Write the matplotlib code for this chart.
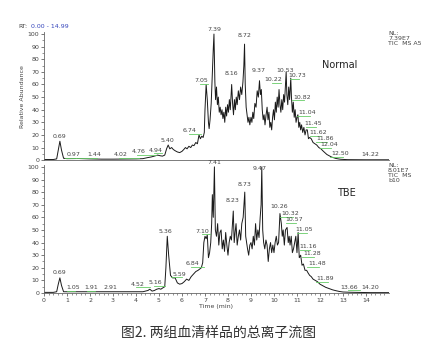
import matplotlib
matplotlib.use("Agg")
import matplotlib.pyplot as plt
from matplotlib.ticker import MultipleLocator

# Normal sample TIC trace (time in min, relative abundance)
normal_t = [0.00, 0.40, 0.55, 0.62, 0.69, 0.76, 0.85, 1.00, 1.50, 2.00, 2.50, 3.00, 3.50, 4.02,
            4.30, 4.50, 4.65, 4.76, 4.85, 4.94, 5.05, 5.15, 5.25, 5.33, 5.40, 5.47, 5.55, 5.62,
            5.70, 5.80, 5.90, 6.00, 6.08, 6.15, 6.22, 6.30, 6.38, 6.45, 6.52, 6.60, 6.67, 6.74,
            6.80, 6.86, 6.92, 6.97,
            7.00, 7.05, 7.10, 7.15, 7.18, 7.22, 7.27, 7.32, 7.36, 7.39, 7.43, 7.46, 7.50, 7.54,
            7.58, 7.62, 7.66, 7.70, 7.74, 7.78, 7.82, 7.86, 7.90, 7.94, 7.98, 8.02, 8.06, 8.10,
            8.16, 8.20, 8.24, 8.28, 8.32, 8.36, 8.40, 8.45, 8.50, 8.55, 8.60, 8.65, 8.69, 8.72,
            8.75, 8.79, 8.83, 8.87, 8.91, 8.95, 9.00, 9.04, 9.08, 9.12, 9.17, 9.22, 9.27, 9.32,
            9.37, 9.41, 9.45, 9.49, 9.53, 9.57, 9.61, 9.65, 9.70, 9.74, 9.78, 9.82, 9.86, 9.90,
            9.94, 9.98, 10.02, 10.06, 10.10, 10.14, 10.18, 10.22, 10.26, 10.30, 10.34, 10.38,
            10.42, 10.46, 10.50, 10.53, 10.56, 10.60, 10.64, 10.68, 10.73, 10.76, 10.80, 10.84,
            10.88, 10.92, 10.96, 11.00, 11.04, 11.08, 11.12, 11.16, 11.20, 11.25, 11.30, 11.35,
            11.40, 11.45, 11.50, 11.55, 11.62, 11.70, 11.78, 11.86, 11.95, 12.04, 12.15, 12.30,
            12.50, 12.70, 12.90, 13.20, 14.00, 14.99]
normal_i = [0.5, 0.5, 1.0, 8.0, 15.0, 8.0, 1.5, 1.2, 1.3, 1.0, 0.8, 0.8, 0.9, 1.0,
            1.2, 2.0, 2.5, 3.0, 3.5, 4.0, 3.5, 3.2, 4.0, 9.0, 12.0, 9.0, 10.0, 8.5,
            7.5, 6.5, 6.0, 7.0, 8.5, 10.0, 9.0, 11.0, 10.0, 12.0, 11.5, 14.0, 13.0, 20.0,
            17.0, 19.0, 18.0, 22.0,
            40, 60, 48, 30, 25, 32, 45, 70, 88, 100, 62, 48, 58, 44,
            50, 38, 42, 36, 40, 33, 38, 30, 42, 35, 44, 38, 48, 40,
            60, 45, 36, 48, 40, 50, 44, 55, 48, 58, 52, 62, 75, 92,
            60, 42, 36, 30, 34, 28, 34, 30, 38, 33, 45, 42, 55, 50,
            63, 52, 56, 40, 32, 36, 28, 35, 42, 32, 38, 26, 30, 24,
            34, 40, 32, 46, 38, 50, 42, 56, 44, 38, 48, 40,
            52, 46, 60, 70, 52, 44, 58, 48, 65, 50, 38, 46,
            34, 40, 30, 34, 36, 26, 30, 24, 28, 22, 26, 20,
            24, 24, 17, 18, 17, 14, 13, 12, 10, 9, 7, 4.5,
            2.5, 1.3, 0.7, 0.4, 0.3, 0.3]

# TBE sample TIC trace
tbe_t = [0.00, 0.40, 0.55, 0.62, 0.69, 0.76, 0.85, 1.05, 1.50, 1.91, 2.40, 2.91, 3.50, 4.00,
         4.30, 4.52, 4.60, 4.70, 4.80, 4.90, 5.00, 5.08, 5.16, 5.25, 5.30, 5.36, 5.42, 5.50,
         5.59, 5.70, 5.80, 5.90, 6.00, 6.10, 6.20, 6.30, 6.40, 6.50, 6.60, 6.70, 6.84, 6.90,
         6.95, 7.00, 7.05, 7.10, 7.15, 7.20, 7.25, 7.29, 7.32, 7.36, 7.41, 7.45, 7.50, 7.55,
         7.60, 7.65, 7.70, 7.75, 7.80, 7.85, 7.90, 7.95, 8.00, 8.05, 8.10, 8.15, 8.23, 8.27,
         8.31, 8.35, 8.40, 8.45, 8.50, 8.55, 8.60, 8.66, 8.73, 8.77, 8.81, 8.85, 8.90, 8.95,
         9.00, 9.05, 9.10, 9.15, 9.20, 9.25, 9.30, 9.35, 9.40, 9.44, 9.47, 9.51, 9.55, 9.60,
         9.65, 9.70, 9.75, 9.80, 9.85, 9.90, 9.95, 10.00, 10.05, 10.10, 10.15, 10.20, 10.26,
         10.32, 10.36, 10.40, 10.45, 10.50, 10.57, 10.62, 10.66, 10.70, 10.75, 10.80, 10.85,
         10.90, 10.95, 11.00, 11.05, 11.10, 11.16, 11.22, 11.28, 11.35, 11.42, 11.48, 11.55,
         11.62, 11.70, 11.80, 11.89, 12.00, 12.10, 12.25, 12.40, 12.55, 12.70, 12.85, 13.00,
         13.30, 13.66, 14.20, 14.99]
tbe_i = [0.5, 0.5, 1.0, 7.0, 12.0, 6.0, 1.0, 1.0, 1.0, 1.0, 1.0, 1.0, 1.0, 1.0,
         1.0, 2.0, 3.0, 1.5, 2.0, 3.0, 3.5, 3.0, 4.0, 5.0, 20.0, 45.0, 30.0, 14.0,
         12.0, 12.0, 8.0, 7.0, 7.5, 9.0, 11.0, 10.0, 13.0, 15.0, 17.0, 18.0, 20.0, 24.0,
         40, 45, 43, 46, 28, 32, 40, 55, 78, 60, 100, 50, 45, 55,
         38, 48, 50, 35, 42, 33, 48, 38, 30, 40, 45, 42, 65, 40,
         48, 55, 38, 45, 50, 42, 55, 60, 80, 45, 40, 35, 30, 38,
         40, 35, 45, 38, 55, 42, 50, 44, 60, 70, 100, 50, 40, 35,
         42, 38, 25, 35, 40, 32, 38, 32, 40, 45, 38, 40, 63,
         55, 45, 50, 38, 50, 52, 40, 45, 38, 45, 32, 35,
         40, 45, 32, 48, 28, 30, 22, 23, 18, 18, 16, 14,
         13, 11, 10, 9, 7, 6, 4.5, 3.5, 2.5, 1.8, 1.2, 0.8,
         0.6, 0.5, 0.3, 0.3]

# peak labels: text, peak time, label height, text offset (min), green leader line
normal_labels = [("0.69", 0.69, 17, 0.0, False), ("0.97", 0.97, 2.5, 0.3, True),
                 ("1.44", 1.44, 2.5, 0.75, True), ("4.02", 4.02, 2.5, -0.7, True),
                 ("4.76", 4.76, 5, -0.65, True), ("4.94", 4.94, 6, -0.1, True),
                 ("5.40", 5.40, 13.5, -0.03, False), ("6.74", 6.74, 21.5, -0.4, True),
                 ("7.05", 7.05, 61, -0.22, True), ("7.39", 7.39, 101.5, 0.0, False),
                 ("8.16", 8.16, 67, -0.03, False), ("8.72", 8.72, 97, 0.0, False),
                 ("9.37", 9.37, 69, -0.04, False), ("10.22", 10.22, 62, -0.25, True),
                 ("10.53", 10.53, 69, -0.04, False), ("10.73", 10.73, 65, 0.27, True),
                 ("10.82", 10.82, 48, 0.4, True), ("11.04", 11.04, 36, 0.42, True),
                 ("11.45", 11.45, 27, 0.27, True), ("11.62", 11.62, 20, 0.3, True),
                 ("11.86", 11.86, 15, 0.36, True), ("12.04", 12.04, 10.5, 0.36, True),
                 ("12.50", 12.50, 3, 0.38, True), ("14.22", 14.22, 2.5, -0.05, False)]
tbe_labels = [("0.69", 0.69, 14, -0.02, False), ("1.05", 1.05, 2.4, 0.2, True),
              ("1.91", 1.91, 2.4, 0.13, True), ("2.91", 2.91, 2.4, -0.03, False),
              ("4.52", 4.52, 5, -0.47, True), ("5.16", 5.16, 6, -0.33, True),
              ("5.36", 5.36, 47, -0.06, False), ("5.59", 5.59, 13, 0.3, True),
              ("6.84", 6.84, 21.5, -0.4, True), ("7.10", 7.10, 47, -0.2, True),
              ("7.41", 7.41, 101.6, 0.0, False), ("8.23", 8.23, 71, -0.03, False),
              ("8.73", 8.73, 84, 0.0, False), ("9.47", 9.47, 97, -0.09, False),
              ("10.26", 10.26, 67, -0.02, False), ("10.32", 10.32, 61, 0.4, True),
              ("10.57", 10.57, 56.5, 0.3, True), ("11.05", 11.05, 48, 0.28, True),
              ("11.16", 11.16, 35, 0.32, True), ("11.28", 11.28, 29, 0.37, True),
              ("11.48", 11.48, 21.5, 0.39, True), ("11.89", 11.89, 9.5, 0.34, True),
              ("13.66", 13.66, 2.6, -0.4, True), ("14.20", 14.20, 2.4, -0.03, False)]

GREY = "#444444"
GREEN = "#66cc66"

fig = plt.figure(figsize=(4.38, 3.52), dpi=100)
ax_top = fig.add_axes([0.1005, 0.545, 0.787, 0.364])
ax_bot = fig.add_axes([0.1005, 0.1676, 0.787, 0.364])


def _panel(ax, t, y, labels):
    ax.plot(t, y, color="#1a1a1a", lw=0.7)
    ax.set_xlim(0, 14.99)
    ax.set_ylim(0, 101.6)
    for s in ("top", "right"):
        ax.spines[s].set_visible(False)
    for s in ("left", "bottom"):
        ax.spines[s].set_color("#666666")
        ax.spines[s].set_linewidth(0.6)
    ax.yaxis.set_major_locator(MultipleLocator(10))
    ax.yaxis.set_minor_locator(MultipleLocator(5))
    ax.tick_params(axis="y", which="major", length=2.5, width=0.5, labelsize=4.5,
                   colors=GREY, pad=1)
    ax.tick_params(axis="y", which="minor", length=1.5, width=0.4, colors=GREY)
    for txt, tx, ly, dx, green in labels:
        if green:
            lo = min(tx, tx + dx) - 0.05
            hi = max(tx, tx + dx) + 0.1
            hi = max(hi, lo + 0.35)
            ax.plot([lo, hi], [ly - 0.6, ly - 0.6], color=GREEN, lw=0.6)
        ax.text(tx + dx, ly, txt, ha="center", va="bottom", fontsize=4.5, color=GREY)


_panel(ax_top, normal_t, normal_i, normal_labels)
_panel(ax_bot, tbe_t, tbe_i, tbe_labels)

ax_top.tick_params(axis="x", which="both", bottom=False, labelbottom=False)
ax_bot.xaxis.set_major_locator(MultipleLocator(1))
ax_bot.xaxis.set_minor_locator(MultipleLocator(0.2))
ax_bot.tick_params(axis="x", which="major", length=2.5, width=0.5, labelsize=4.5,
                   colors=GREY, pad=1)
ax_bot.tick_params(axis="x", which="minor", length=1.5, width=0.4, colors=GREY)
ax_bot.set_xlabel("Time (min)", fontsize=4.5, color=GREY, labelpad=1)
ax_top.set_ylabel("Relative Abundance", fontsize=4.5, color=GREY, labelpad=2)

fig.text(0.043, 0.925, "RT:", fontsize=4.5, color=GREY, ha="left", va="center")
fig.text(0.070, 0.925, "0.00 - 14.99", fontsize=4.5, color="#3344bb", ha="left", va="center")

fig.text(0.886, 0.913, "NL:\n7.39E7\nTIC  MS A5", fontsize=4.5, color=GREY,
         ha="left", va="top", linespacing=1.0)
fig.text(0.886, 0.538, "NL:\n8.01E7\nTIC  MS\nb10", fontsize=4.5, color=GREY,
         ha="left", va="top", linespacing=1.0)
fig.text(0.775, 0.815, "Normal", fontsize=7, color="#222222", ha="center", va="center")
fig.text(0.790, 0.452, "TBE", fontsize=7, color="#222222", ha="center", va="center")

fig.text(0.5, 0.055, "图2. 两组血清样品的总离子流图", fontsize=10, color="#333333",
         ha="center", va="center", family=["Noto Sans CJK SC", "DejaVu Sans"])

fig.savefig("out.png", dpi=100)
